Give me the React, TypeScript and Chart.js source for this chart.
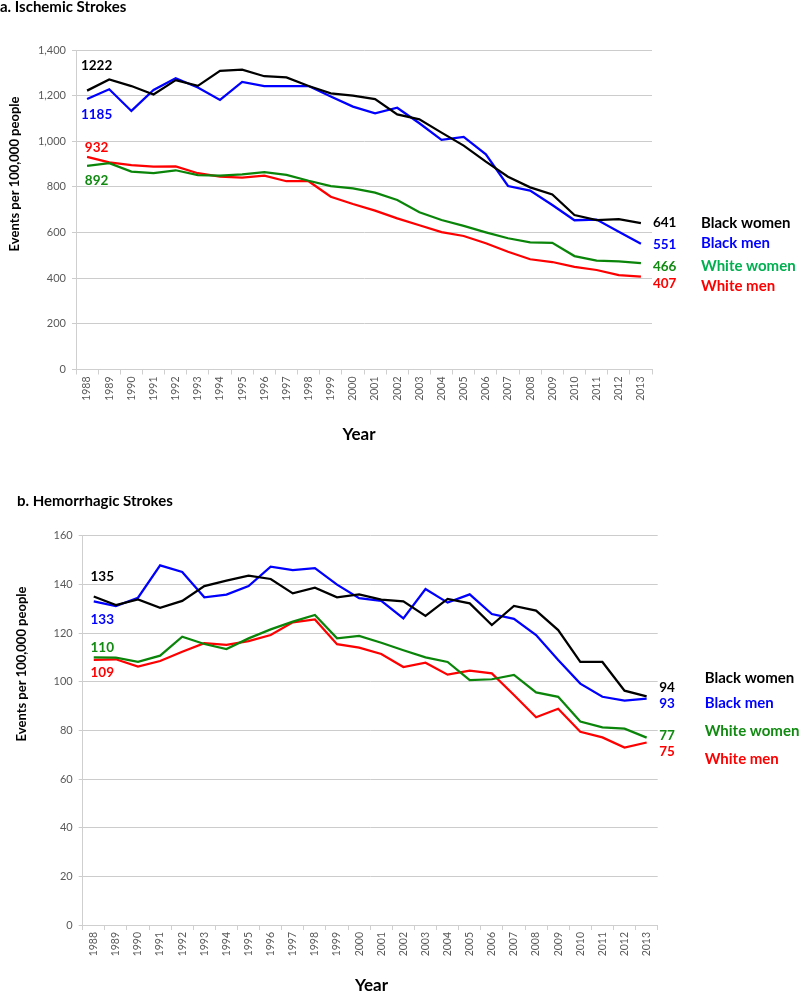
import React, { useEffect, useRef } from 'react';
import { Chart, registerables } from 'chart.js';

Chart.register(...registerables);

// ---------- DATA ----------
const years = [
  '1988', '1989', '1990', '1991', '1992', '1993', '1994', '1995', '1996', '1997', '1998', '1999', '2000',
  '2001', '2002', '2003', '2004', '2005', '2006', '2007', '2008', '2009', '2010', '2011', '2012', '2013',
];

const seriesNames = ['Black women', 'Black men', 'White women', 'White men'];

// a. Ischemic strokes (events per 100,000 people)
const ischBlackWomen = [1222, 1271, 1242, 1205, 1268, 1243, 1309, 1314, 1285, 1280, 1242, 1210, 1200, 1185, 1118, 1096, 1038, 981, 911, 845, 798, 767, 677, 655, 659, 641];
const ischBlackMen = [1185, 1228, 1133, 1225, 1276, 1236, 1181, 1260, 1242, 1242, 1242, 1196, 1152, 1122, 1147, 1079, 1006, 1019, 943, 804, 784, 721, 654, 657, 604, 551];
const ischWhiteWomen = [892, 904, 867, 860, 873, 852, 849, 855, 865, 853, 827, 804, 794, 775, 743, 689, 655, 629, 601, 575, 557, 555, 497, 477, 474, 466];
const ischWhiteMen = [932, 908, 896, 889, 890, 860, 845, 841, 849, 825, 825, 757, 725, 696, 662, 632, 602, 585, 553, 516, 483, 471, 450, 436, 414, 407];

// b. Hemorrhagic strokes (events per 100,000 people)
const hemBlackWomen = [135, 131.5, 133.8, 130.4, 133.2, 139.3, 141.5, 143.6, 142.2, 136.3, 138.6, 134.7, 135.9, 133.7, 133, 127, 134, 132.2, 123.3, 131.1, 129.2, 121.2, 108.1, 108.1, 96.3, 94];
const hemBlackMen = [133, 131.1, 134.5, 147.8, 145.1, 134.7, 135.8, 139.3, 147.3, 145.9, 146.7, 139.9, 134.3, 133.2, 126, 138.1, 132.5, 135.9, 127.8, 125.8, 119.2, 108.9, 99.2, 93.8, 92.2, 93];
const hemWhiteWomen = [110, 109.9, 108.2, 110.7, 118.5, 115.5, 113.4, 117.8, 121.5, 124.7, 127.4, 117.8, 118.8, 116, 112.9, 110, 108.1, 100.6, 101, 102.8, 95.6, 93.8, 83.6, 81.2, 80.7, 77];
const hemWhiteMen = [109, 109.2, 106.2, 108.5, 112.3, 115.8, 115.1, 116.7, 119.2, 124.4, 125.6, 115.4, 114, 111.4, 106, 107.8, 102.9, 104.5, 103.4, 94.5, 85.4, 88.9, 79.4, 77.1, 72.9, 75];

const ischTicks = { min: 0, max: 1400, step: 200 };
const hemTicks = { min: 0, max: 160, step: 20 };

// ---------- STYLE ----------
const FONT = "Lato, 'Open Sans', 'DejaVu Sans', sans-serif";
const lineColors = ['#000000', '#0000ff', '#0a850a', '#ff0000'];
const labelColors = ['#000000', '#0000ff', '#108a10', '#ff0000'];
const gridColor = '#cccccc';
const axisColor = '#cfcfcf';
const tickColor = '#595959';

type Cfg = {
  top: number;
  title: string;
  titlePos: [number, number];
  yTitlePos: [number, number];
  yearPos: [number, number];
  data: number[][];
  ticks: { min: number; max: number; step: number };
  padding: { left: number; right: number; top: number; bottom: number };
  yWidth: number;
  xHeight: number;
  startDx: number;
  startDy: number[];
  endDx: number;
  endDy: number[];
  legendDx: number;
  legendDy: number[];
  legendColors: string[];
};

const cfgA: Cfg = {
  top: 0,
  title: 'a. Ischemic Strokes',
  titlePos: [0, 7],
  yTitlePos: [15, 174],
  yearPos: [359, 435],
  data: [ischBlackWomen, ischBlackMen, ischWhiteWomen, ischWhiteMen],
  ticks: ischTicks,
  padding: { left: 0, right: 148, top: 50, bottom: 66.5 },
  yWidth: 76,
  xHeight: 60,
  startDx: 9.5,
  startDy: [-25, 16, 15, -9],
  endDx: 12,
  endDy: [-1, 1, 3.5, 7.5],
  legendDx: 49,
  legendDy: [0, -1, 3, 9.5],
  legendColors: ['#000000', '#0000ff', '#00b050', '#ff0000'],
};

const cfgB: Cfg = {
  top: 496,
  title: 'b. Hemorrhagic Strokes',
  titlePos: [17, 5],
  yTitlePos: [22, 168],
  yearPos: [371.5, 490],
  data: [hemBlackWomen, hemBlackMen, hemWhiteWomen, hemWhiteMen],
  ticks: hemTicks,
  padding: { left: 0, right: 142.3, top: 39.7, bottom: 7 },
  yWidth: 82.7,
  xHeight: 60,
  startDx: 8.5,
  startDy: [-19.5, 18.6, -10, 13],
  endDx: 12.5,
  endDy: [-9, 5, -2, 9.5],
  legendDx: 47,
  legendDy: [-18, 4, -6, 16.5],
  legendColors: ['#000000', '#0000ff', '#108a10', '#ff0000'],
};

function fmt(v: number): string {
  return String(Math.round(v));
}

function StrokeChart({ cfg }: { cfg: Cfg }) {
  const ref = useRef<HTMLCanvasElement>(null);

  useEffect(() => {
    const canvas = ref.current;
    if (!canvas) return;

    const overlay = {
      id: 'overlayText',
      afterDraw(chart: any) {
        const ctx = chart.ctx as CanvasRenderingContext2D;
        const area = chart.chartArea;
        ctx.save();
        ctx.textBaseline = 'middle';

        // Title
        ctx.fillStyle = '#000000';
        ctx.font = `bold 15px ${FONT}`;
        ctx.textAlign = 'left';
        ctx.fillText(cfg.title, cfg.titlePos[0], cfg.titlePos[1]);

        // Axis titles
        ctx.save();
        ctx.translate(cfg.yTitlePos[0], cfg.yTitlePos[1]);
        ctx.rotate(-Math.PI / 2);
        ctx.textAlign = 'center';
        ctx.font = `bold 13px ${FONT}`;
        ctx.fillText('Events per 100,000 people', 0, 0);
        ctx.restore();

        ctx.textAlign = 'center';
        ctx.font = `bold 17px ${FONT}`;
        ctx.fillText('Year', cfg.yearPos[0], cfg.yearPos[1]);

        // Start / end value labels and series names
        cfg.data.forEach((vals, i) => {
          const meta = chart.getDatasetMeta(i);
          const first = meta.data[0];
          const last = meta.data[meta.data.length - 1];
          ctx.font = `bold 13.5px ${FONT}`;
          ctx.fillStyle = labelColors[i];
          ctx.textAlign = 'center';
          ctx.fillText(fmt(vals[0]), first.x + cfg.startDx, first.y + cfg.startDy[i]);
          ctx.textAlign = 'left';
          ctx.fillText(fmt(vals[vals.length - 1]), last.x + cfg.endDx, last.y + cfg.endDy[i]);

          ctx.font = `bold 15px ${FONT}`;
          ctx.fillStyle = cfg.legendColors[i];
          ctx.fillText(seriesNames[i], area.right + cfg.legendDx, last.y + cfg.legendDy[i]);
        });
        ctx.restore();
      },
    };

    const chart = new Chart(canvas, {
      type: 'line',
      data: {
        labels: years,
        datasets: cfg.data.map((vals, i) => ({
          label: seriesNames[i],
          data: vals,
          borderColor: lineColors[i],
          backgroundColor: lineColors[i],
          borderWidth: 2.25,
          pointRadius: 0,
          tension: 0,
          fill: false,
        })),
      },
      options: {
        responsive: false,
        animation: false,
        devicePixelRatio: 1,
        layout: { padding: cfg.padding },
        plugins: {
          legend: { display: false },
          tooltip: { enabled: false },
          title: { display: false },
        },
        scales: {
          x: {
            type: 'category',
            offset: true,
            grid: {
              offset: true,
              drawOnChartArea: false,
              drawTicks: true,
              tickLength: 5,
              color: axisColor,
            },
            border: { display: true, color: axisColor, width: 1 },
            ticks: {
              autoSkip: false,
              maxRotation: 90,
              minRotation: 90,
              padding: 2,
              color: tickColor,
              font: { family: FONT, size: 10.5 },
            },
            afterFit: (s: any) => {
              s.height = cfg.xHeight;
            },
          },
          y: {
            min: cfg.ticks.min,
            max: cfg.ticks.max,
            ticks: {
              stepSize: cfg.ticks.step,
              padding: 6,
              color: tickColor,
              font: { family: FONT, size: 11 },
              callback: (v: any) => Number(v).toLocaleString('en-US'),
            },
            grid: { color: gridColor, lineWidth: 1, drawTicks: true, tickLength: 4 },
            border: { display: true, color: axisColor, width: 1 },
            afterFit: (s: any) => {
              s.width = cfg.yWidth;
            },
          },
        },
      } as any,
      plugins: [overlay],
    });

    return () => {
      chart.destroy();
    };
  }, [cfg]);

  return (
    <canvas
      ref={ref}
      width={800}
      height={496}
      style={{ display: 'block', position: 'absolute', left: 0, top: cfg.top, width: 800, height: 496 }}
    />
  );
}

export default function App() {
  return (
    <div style={{ position: 'absolute', left: 0, top: 0, width: 800, height: 992, background: '#ffffff' }}>
      <StrokeChart cfg={cfgA} />
      <StrokeChart cfg={cfgB} />
    </div>
  );
}
